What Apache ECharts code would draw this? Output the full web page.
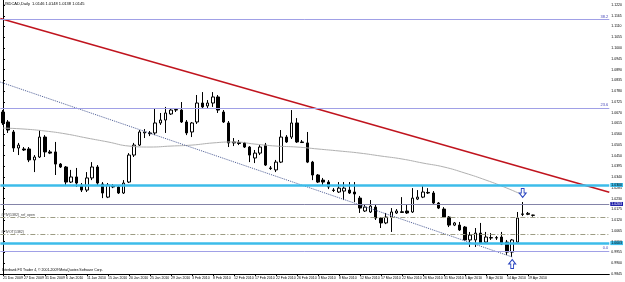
<!DOCTYPE html>
<html>
<head>
<meta charset="utf-8">
<script src="https://cdn.jsdelivr.net/npm/echarts@6/dist/echarts.min.js"></script>
<style>
  html, body { margin: 0; padding: 0; background: #fff; }
  #chart { width: 625px; height: 282px; }
</style>
</head>
<body>
<div id="chart"></div>
<script>
// daily bars, MetaTrader style (Sunday bars included)
var dates = [
  '21 Dec 2009','22 Dec 2009','23 Dec 2009','24 Dec 2009','27 Dec 2009','28 Dec 2009','29 Dec 2009','30 Dec 2009','31 Dec 2009',
  '3 Jan 2010','4 Jan 2010','5 Jan 2010','6 Jan 2010','7 Jan 2010','8 Jan 2010','10 Jan 2010','11 Jan 2010','12 Jan 2010','13 Jan 2010',
  '14 Jan 2010','15 Jan 2010','17 Jan 2010','18 Jan 2010','19 Jan 2010','20 Jan 2010','21 Jan 2010','22 Jan 2010','24 Jan 2010','25 Jan 2010',
  '26 Jan 2010','27 Jan 2010','28 Jan 2010','29 Jan 2010','31 Jan 2010','1 Feb 2010','2 Feb 2010','3 Feb 2010','4 Feb 2010','5 Feb 2010',
  '7 Feb 2010','8 Feb 2010','9 Feb 2010','10 Feb 2010','11 Feb 2010','12 Feb 2010','14 Feb 2010','15 Feb 2010','16 Feb 2010','17 Feb 2010',
  '18 Feb 2010','19 Feb 2010','21 Feb 2010','22 Feb 2010','23 Feb 2010','24 Feb 2010','25 Feb 2010','26 Feb 2010','28 Feb 2010','1 Mar 2010',
  '2 Mar 2010','3 Mar 2010','4 Mar 2010','5 Mar 2010','7 Mar 2010','8 Mar 2010','9 Mar 2010','10 Mar 2010','11 Mar 2010','12 Mar 2010',
  '14 Mar 2010','15 Mar 2010','16 Mar 2010','17 Mar 2010','18 Mar 2010','19 Mar 2010','21 Mar 2010','22 Mar 2010','23 Mar 2010','24 Mar 2010',
  '25 Mar 2010','26 Mar 2010','28 Mar 2010','29 Mar 2010','30 Mar 2010','31 Mar 2010','1 Apr 2010','2 Apr 2010','4 Apr 2010','5 Apr 2010',
  '6 Apr 2010','7 Apr 2010','8 Apr 2010','9 Apr 2010','11 Apr 2010','12 Apr 2010','13 Apr 2010','14 Apr 2010','15 Apr 2010','16 Apr 2010',
  '18 Apr 2010','19 Apr 2010','20 Apr 2010'
];

var open = [
  1.0673,1.0622,1.0571,1.0489,1.0484,1.0484,1.0428,1.0443,1.0545,1.0469,1.0469,1.0407,1.0392,1.0315,1.0341,1.0300,1.0274,1.0336,1.0392,1.0305,
  1.0238,1.0295,1.0290,1.0259,1.0315,1.0453,1.0504,1.0566,1.0566,1.0566,1.0617,1.0632,1.0663,1.0683,1.0683,1.0622,1.0571,1.0622,1.0719,1.0704,
  1.0719,1.0750,1.0673,1.0617,1.0515,1.0517,1.0515,1.0494,1.0438,1.0463,1.0504,1.0387,1.0377,1.0417,1.0545,1.0545,1.0617,1.0520,1.0515,1.0417,
  1.0351,1.0325,1.0315,1.0274,1.0264,1.0269,1.0274,1.0264,1.0233,1.0167,1.0162,1.0187,1.0131,1.0106,1.0136,1.0157,1.0163,1.0167,1.0162,1.0228,
  1.0238,1.0262,1.0259,1.0208,1.0177,1.0136,1.0095,1.0095,1.0085,1.0019,1.0019,1.0054,1.0008,1.0031,1.0029,1.0034,1.0008,0.9957,1.0008,1.0152,
  1.0150,1.0146
];
var close = [
  1.0617,1.0581,1.0489,1.0504,1.0479,1.0428,1.0443,1.0545,1.0469,1.0463,1.0407,1.0392,1.0315,1.0341,1.0310,1.0274,1.0336,1.0392,1.0310,1.0259,
  1.0300,1.0290,1.0259,1.0310,1.0453,1.0504,1.0571,1.0571,1.0562,1.0617,1.0632,1.0668,1.0683,1.0686,1.0622,1.0566,1.0617,1.0719,1.0699,1.0719,
  1.0750,1.0683,1.0622,1.0515,1.0520,1.0512,1.0494,1.0453,1.0463,1.0494,1.0402,1.0384,1.0417,1.0545,1.0520,1.0617,1.0520,1.0517,1.0417,1.0351,
  1.0315,1.0315,1.0290,1.0272,1.0284,1.0284,1.0259,1.0254,1.0182,1.0187,1.0192,1.0131,1.0106,1.0136,1.0162,1.0167,1.0160,1.0157,1.0233,1.0238,
  1.0264,1.0259,1.0208,1.0182,1.0136,1.0095,1.0106,1.0070,1.0019,1.0044,1.0054,1.0003,1.0034,1.0029,1.0031,0.9998,0.9957,1.0019,1.0131,1.0150,
  1.0155,1.0145
];
var low = [
  1.0607,1.0566,1.0469,1.0453,1.0474,1.0417,1.0366,1.0438,1.0443,1.0458,1.0351,1.0387,1.0300,1.0310,1.0290,1.0264,1.0264,1.0325,1.0300,1.0233,
  1.0233,1.0284,1.0254,1.0254,1.0310,1.0443,1.0499,1.0540,1.0550,1.0555,1.0607,1.0566,1.0658,1.0673,1.0617,1.0555,1.0545,1.0612,1.0693,1.0693,
  1.0699,1.0668,1.0617,1.0494,1.0499,1.0504,1.0489,1.0417,1.0412,1.0453,1.0397,1.0377,1.0366,1.0412,1.0515,1.0535,1.0515,1.0515,1.0412,1.0325,
  1.0310,1.0300,1.0279,1.0264,1.0259,1.0223,1.0254,1.0213,1.0157,1.0162,1.0157,1.0121,1.0080,1.0100,1.0060,1.0152,1.0157,1.0152,1.0157,1.0223,
  1.0233,1.0254,1.0203,1.0177,1.0131,1.0085,1.0090,1.0065,1.0014,0.9983,0.9983,0.9998,1.0003,1.0019,1.0019,0.9993,0.9942,0.9932,1.0003,1.0141,
  1.0146,1.0138
];
var high = [
  1.0683,1.0632,1.0581,1.0515,1.0494,1.0494,1.0453,1.0581,1.0555,1.0479,1.0520,1.0412,1.0397,1.0377,1.0387,1.0310,1.0366,1.0417,1.0402,1.0315,
  1.0310,1.0305,1.0295,1.0325,1.0463,1.0515,1.0581,1.0586,1.0576,1.0693,1.0668,1.0699,1.0693,1.0693,1.0724,1.0632,1.0622,1.0760,1.0775,1.0734,
  1.0775,1.0760,1.0683,1.0627,1.0540,1.0530,1.0520,1.0499,1.0479,1.0504,1.0515,1.0397,1.0428,1.0581,1.0555,1.0683,1.0642,1.0530,1.0571,1.0423,
  1.0356,1.0336,1.0325,1.0284,1.0315,1.0315,1.0315,1.0315,1.0244,1.0198,1.0223,1.0198,1.0136,1.0157,1.0182,1.0177,1.0238,1.0198,1.0284,1.0274,
  1.0300,1.0284,1.0269,1.0213,1.0187,1.0141,1.0111,1.0111,1.0090,1.0060,1.0080,1.0106,1.0060,1.0054,1.0039,1.0060,1.0019,1.0024,1.0162,1.0213,
  1.0162,1.0148
];

// moving average read at every 4th bar
var maBars = [0, 4, 8, 12, 16, 20, 24, 28, 32, 36, 40, 44, 48, 52, 56, 60, 64, 68, 72, 76, 80, 84, 88, 92, 96, 99];
var maValues = [1.0591,1.0586,1.0576,1.0561,1.0540,1.0520,1.0499,1.0494,1.0499,1.0504,1.0515,1.0520,1.0509,
                1.0499,1.0494,1.0484,1.0474,1.0463,1.0448,1.0433,1.0412,1.0392,1.0361,1.0325,1.0284,1.0249];

// drawn objects: trend lines (bar index, price)
var redTrend = [[-0.5, 1.1151], [115.5, 1.0263]];
var dottedTrend = [[-0.5, 1.0826], [97, 0.9932]];

// horizontal levels
var fibLevels = [1.1145, 1.0693, 0.9963];
var fibNames = ['38.2', '23.6', '0.0'];
var cyanLevels = [1.0300, 1.0003];
var purpleLevel = 1.0203;
var dashLevels = [1.0133, 1.0046];
var dashNames = ['#PIV(1382)_ref_open', '#PIVOT(1382)'];

// arrows: [bar index, price]
var upArrow = [97, 0.9932];
var downArrow = [99, 1.0213];

var slots = 116;
var cats = dates.slice();
while (cats.length < slots) cats.push('');

var candles = dates.map(function (d, i) { return [open[i], close[i], low[i], high[i]]; });
var maLine = maBars.map(function (b, i) { return [b, maValues[i]]; });

function showDate(i, v) { return i % 4 === 0 && v !== ''; }

var marks = [];
fibLevels.forEach(function (v, i) {
  marks.push({ yAxis: v, lineStyle: { color: '#a0a0e6', width: 1, type: 'solid' },
    label: { show: true, position: 'insideEndTop', formatter: fibNames[i], color: '#4848b8', fontSize: 4, distance: 1 } });
});
cyanLevels.forEach(function (v) {
  marks.push({ yAxis: v, lineStyle: { color: '#3cbcea', width: 2.5, type: 'solid' },
    label: { show: true, position: 'end', formatter: v.toFixed(4), color: '#000', backgroundColor: '#3cbcea', fontSize: 3.5, padding: [0, 1], distance: 1 } });
});
marks.push({ yAxis: purpleLevel, lineStyle: { color: '#8484a8', width: 1, type: 'solid' },
  label: { show: true, position: 'end', formatter: purpleLevel.toFixed(4), color: '#fff', backgroundColor: '#1c1ca8', fontSize: 3.5, padding: [0, 1], distance: 1 } });
dashLevels.forEach(function (v, i) {
  marks.push({ yAxis: v, lineStyle: { color: '#9c9c84', width: 1, type: [5, 2, 1, 2] },
    label: { show: true, position: 'insideStartTop', formatter: dashNames[i], color: '#404040', fontSize: 3.5, distance: 1 } });
});
var bid = close[close.length - 1];
marks.push({ yAxis: bid, lineStyle: { opacity: 0 },
  label: { show: true, position: 'end', formatter: bid.toFixed(4), color: '#fff', backgroundColor: '#000', fontSize: 3.5, padding: [0, 1], distance: 1 } });

var arrowUp = 'path://M5,0 L10,5 L7,5 L7,10 L3,10 L3,5 L0,5 Z';
var arrowDown = 'path://M3,0 L7,0 L7,5 L10,5 L5,10 L0,5 L3,5 Z';

var chart = echarts.init(document.getElementById('chart'));
chart.setOption({
  animation: false,
  backgroundColor: '#fff',
  grid: { left: 0, right: 13, top: 0, bottom: 8 },
  xAxis: [{
    type: 'category',
    data: cats,
    boundaryGap: true,
    axisLine: { lineStyle: { color: '#000', width: 1 } },
    axisTick: { show: true, length: 2, alignWithLabel: true, interval: showDate, lineStyle: { color: '#000' } },
    axisLabel: { interval: showDate, align: 'left', fontSize: 3.5, margin: 2, color: '#000', fontFamily: 'Arial' },
    splitLine: { show: false }
  }, {
    type: 'value', min: -0.5, max: slots - 0.5, show: false
  }],
  yAxis: {
    type: 'value',
    position: 'right',
    min: 0.9845,
    max: 1.12456,
    interval: 0.0055,
    axisLine: { show: true, lineStyle: { color: '#000', width: 1 } },
    axisTick: { show: true, length: 2, lineStyle: { color: '#000' } },
    axisLabel: { fontSize: 3.5, margin: 2, color: '#000', fontFamily: 'Arial', showMaxLabel: false,
      formatter: function (v) { return v.toFixed(4); } },
    splitLine: { show: false }
  },
  graphic: [
    { type: 'text', left: 3, top: 2, style: { text: 'USDCAD,Daily  1.0146 1.0148 1.0138 1.0145', fontSize: 4, fill: '#000', fontFamily: 'Arial' } },
    { type: 'text', left: 2, top: 268, style: { text: 'Interbank FX Trader 4, \u00a9 2001-2009 MetaQuotes Software Corp.', fontSize: 3.5, fill: '#000', fontFamily: 'Arial' } }
  ],
  series: [{
    type: 'candlestick',
    data: candles,
    barWidth: 3,
    itemStyle: { color: '#fff', color0: '#000', borderColor: '#000', borderColor0: '#000', borderWidth: 1 },
    markLine: { silent: true, precision: 4, symbol: ['none', 'none'], animation: false, data: marks },
    markPoint: {
      silent: true,
      precision: 4,
      data: [
        { coord: upArrow, symbol: arrowUp, symbolSize: [7, 9], symbolOffset: [0, 7],
          itemStyle: { color: '#fff', borderColor: '#2844c0', borderWidth: 1 }, label: { show: false } },
        { coord: downArrow, symbol: arrowDown, symbolSize: [7, 9], symbolOffset: [0, -9],
          itemStyle: { color: '#fff', borderColor: '#2844c0', borderWidth: 1 }, label: { show: false } }
      ]
    }
  }, {
    type: 'line', xAxisIndex: 1, data: maLine, smooth: true, symbol: 'none',
    lineStyle: { color: '#b0b0b0', width: 1 }
  }, {
    type: 'line', xAxisIndex: 1, data: redTrend, symbol: 'none',
    lineStyle: { color: '#c0141e', width: 1.5 }
  }, {
    type: 'line', xAxisIndex: 1, data: dottedTrend, symbol: 'none',
    lineStyle: { color: '#4c5c94', width: 1, type: 'dotted' }
  }]
});
</script>
</body>
</html>
